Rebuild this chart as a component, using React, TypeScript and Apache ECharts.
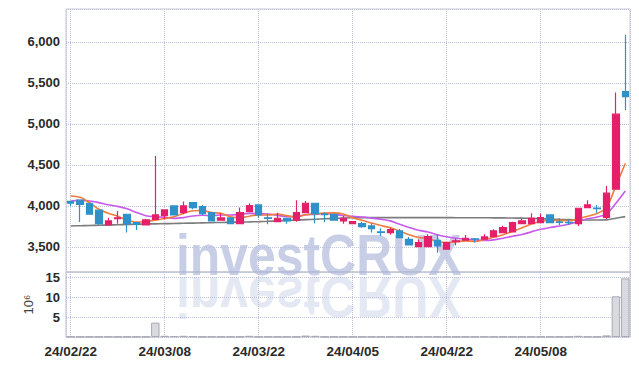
import React, { useEffect, useRef } from "react";
import * as echarts from "echarts";

const dates = [
  "2024-02-22","2024-02-23","2024-02-26","2024-02-27","2024-02-28","2024-02-29",
  "2024-03-04","2024-03-05","2024-03-06","2024-03-07","2024-03-08","2024-03-11","2024-03-12","2024-03-13","2024-03-14","2024-03-15",
  "2024-03-18","2024-03-19","2024-03-20","2024-03-21","2024-03-22","2024-03-25","2024-03-26","2024-03-27","2024-03-28","2024-03-29",
  "2024-04-01","2024-04-02","2024-04-03","2024-04-04","2024-04-05","2024-04-08","2024-04-09","2024-04-11","2024-04-12",
  "2024-04-15","2024-04-16","2024-04-17","2024-04-18","2024-04-19","2024-04-22","2024-04-23","2024-04-24","2024-04-25","2024-04-26",
  "2024-04-29","2024-04-30","2024-05-02","2024-05-03","2024-05-07","2024-05-08","2024-05-09","2024-05-10","2024-05-13","2024-05-14",
  "2024-05-16","2024-05-17","2024-05-20","2024-05-21","2024-05-22",
];

const opens = [4055,4070,4033,3948,3768,3845,3899,3797,3768,3835,3882,4000,3918,4041,3991,3918,3826,3854,3784,3930,4012,3855,3808,3850,3826,3918,4033,3900,3898,3817,3784,3784,3756,3683,3675,3695,3593,3504,3504,3581,3472,3565,3582,3600,3594,3626,3675,3683,3784,3784,3796,3890,3805,3800,3784,3980,3975,3860,4204,5394];
const closes = [4035,4020,3899,3784,3817,3855,3784,3777,3829,3890,3951,3890,4000,3980,3906,3817,3854,3784,3918,4004,3890,3848,3850,3817,3918,4033,3906,3895,3826,3850,3808,3747,3723,3678,3711,3613,3524,3553,3626,3512,3553,3575,3606,3594,3622,3695,3735,3796,3817,3850,3857,3796,3800,3795,3972,4012,3967,4155,5118,5333];
const lows = [4000,3805,3895,3768,3760,3784,3675,3707,3765,3830,3838,3885,3900,3960,3890,3812,3822,3780,3776,3925,3857,3776,3805,3784,3808,3915,3789,3800,3820,3784,3780,3735,3675,3634,3650,3608,3520,3500,3500,3430,3470,3520,3578,3555,3590,3622,3670,3680,3780,3780,3792,3790,3765,3770,3755,3975,3918,3840,4200,5167];
const highs = [4062,4072,4035,3950,3857,3939,3902,3800,3841,4610,3955,4002,4053,4043,4012,3920,3911,3856,3980,4033,4015,3898,3918,3852,4070,4061,4035,3920,3900,3878,3815,3808,3789,3728,3735,3720,3620,3590,3655,3655,3560,3600,3646,3610,3655,3715,3760,3808,3841,3911,3906,3895,3850,3830,3975,4070,4012,4244,5382,6086];

// volume in millions of shares
const volumes = [0.08,0.08,0.08,0.08,0.08,0.08,0.08,0.08,0.1,3.6,0.3,0.25,0.3,0.2,0.08,0.08,0.08,0.08,0.1,0.3,0.08,0.08,0.08,0.08,0.1,0.35,0.3,0.08,0.08,0.08,0.08,0.08,0.08,0.08,0.08,0.08,0.08,0.08,0.08,0.1,0.08,0.08,0.08,0.08,0.08,0.08,0.08,0.08,0.08,0.08,0.08,0.08,0.08,0.08,0.3,0.08,0.08,0.4,10.2,14.7];

const ma5Head = [4122, 4105, 4040, 3960];
const ma10Head = [4060, 4070, 4060, 4040, 4015, 3995, 3965, 3920, 3880];
const ma60 = [3756,3759,3762,3765,3768,3771,3774,3777,3780,3782,3784,3786,3789,3791,3794,3796,3799,3801,3804,3806,3809,3813,3818,3823,3828,3833,3838,3843,3848,3853,3857,3858,3858,3858,3858,3858,3858,3858,3858,3858,3858,3857,3857,3856,3856,3855,3854,3853,3851,3848,3844,3840,3836,3833,3830,3829,3829,3830,3851,3870];

const yTicks = [3500, 4000, 4500, 5000, 5500, 6000];
const volTicks = [5, 10, 15];

function movingAverage(n: number, head: number[]): number[] {
  return closes.map((_, i) => {
    if (i < n - 1) return head[i];
    let s = 0;
    for (let k = i - n + 1; k <= i; k++) s += closes[k];
    return Math.round(s / n);
  });
}

const FONT = "'Liberation Sans', Arial, sans-serif";
const UP = "#e4206a";
const DOWN = "#2f91c8";
const GRID_LINE = "#bcc2da";

function fmtDate(d: string) {
  return d.slice(2).replace(/-/g, "/");
}

export default function App() {
  const ref = useRef<HTMLDivElement>(null);
  useEffect(() => {
    document.body.style.margin = "0";
    if (!ref.current) return;
    const chart = echarts.init(ref.current, undefined, { renderer: "svg" });
    const ma5 = movingAverage(5, ma5Head);
    const ma10 = movingAverage(10, ma10Head);
    const candles = dates.map((_, i) => [opens[i], closes[i], lows[i], highs[i]]);
    const gridLeft = 66;
    const gridRight = 9;
    const labelStyle = {
      color: "#2a2a2a",
      fontSize: 13,
      fontFamily: FONT,
      fontWeight: "bold" as const,
    };
    const splitLine = { show: true, lineStyle: { type: "dotted" as const, color: GRID_LINE, width: 1 } };
    const wmFont = "bold 58px 'Liberation Sans', Arial, sans-serif";
    chart.setOption({
      animation: false,
      backgroundColor: "#ffffff",
      graphic: [
        {
          type: "text",
          x: 176,
          y: 284,
          silent: true,
          scaleX: 0.86,
          style: { text: "investCRUX", font: wmFont, fill: "rgba(165,176,214,0.62)", verticalAlign: "bottom" },
        },
        {
          type: "text",
          x: 176,
          y: 268,
          silent: true,
          scaleX: 0.86,
          scaleY: -1,
          style: { text: "investCRUX", font: wmFont, fill: "rgba(185,194,224,0.38)", verticalAlign: "bottom" },
        },
      ],
      grid: [
        { left: gridLeft, right: gridRight, top: 9, height: 263, show: true, borderColor: "#c6c9d6", borderWidth: 1, backgroundColor: "transparent" },
        { left: gridLeft, right: gridRight, top: 272, height: 65, show: true, borderColor: "#b9bbc6", borderWidth: 1, backgroundColor: "transparent" },
      ],
      xAxis: [
        { type: "category", gridIndex: 0, data: dates, boundaryGap: true, show: false, position: "bottom" },
        { type: "category", gridIndex: 1, data: dates, boundaryGap: true, show: false, position: "top" },
        {
          type: "value", gridIndex: 0, min: -0.5, max: 59.5, minInterval: 10, maxInterval: 10, position: "top",
          axisLine: { show: false }, axisTick: { show: false }, axisLabel: { show: false }, splitLine,
        },
        {
          type: "value", gridIndex: 1, min: -0.5, max: 59.5, minInterval: 10, maxInterval: 10, position: "bottom",
          axisLine: { show: false }, axisTick: { show: false }, splitLine,
          axisLabel: {
            ...labelStyle,
            fontSize: 13.5,
            margin: 7,
            showMinLabel: false,
            showMaxLabel: false,
            formatter: (v: number) => (Number.isInteger(v) && v % 10 === 0 && dates[v] ? fmtDate(dates[v]) : ""),
          },
        },
      ],
      yAxis: [
        {
          type: "value", gridIndex: 0, min: 3195, max: 6400, minInterval: 500, maxInterval: 500,
          axisLine: { show: false }, axisTick: { show: false }, splitLine,
          axisLabel: {
            ...labelStyle,
            margin: 6,
            showMinLabel: false,
            showMaxLabel: false,
            formatter: (v: number) => (yTicks.includes(v) ? v.toLocaleString("en-US") : ""),
          },
        },
        {
          type: "value", gridIndex: 1, min: 0, max: 16.3, minInterval: 5, maxInterval: 5,
          axisLine: { show: false }, axisTick: { show: false }, splitLine,
          name: "10⁶",
          nameLocation: "middle",
          nameRotate: 90,
          nameGap: 26,
          nameTextStyle: { color: "#444", fontSize: 13, fontFamily: FONT },
          axisLabel: {
            ...labelStyle,
            margin: 6,
            showMinLabel: false,
            showMaxLabel: false,
            formatter: (v: number) => (volTicks.includes(v) ? String(v) : ""),
          },
        },
      ],
      series: [
        {
          type: "candlestick",
          xAxisIndex: 0,
          yAxisIndex: 0,
          data: candles,
          barWidth: "72%",
          z: 3,
          itemStyle: { color: UP, color0: DOWN, borderColor: UP, borderColor0: DOWN, borderWidth: 1.2 },
        },
        {
          type: "line", xAxisIndex: 0, yAxisIndex: 0, data: ma60, showSymbol: false, smooth: 0.3, z: 2,
          lineStyle: { color: "#7c7c7c", width: 1.6 },
        },
        {
          type: "line", xAxisIndex: 0, yAxisIndex: 0, data: ma10, showSymbol: false, smooth: 0.3, z: 2,
          lineStyle: { color: "#c859ec", width: 1.6 },
        },
        {
          type: "line", xAxisIndex: 0, yAxisIndex: 0, data: ma5, showSymbol: false, smooth: 0.3, z: 2,
          lineStyle: { color: "#f07d3c", width: 1.6 },
        },
        {
          type: "bar", xAxisIndex: 1, yAxisIndex: 1, data: volumes, barWidth: "90%", z: 3,
          itemStyle: { color: "#d9d9e0", borderColor: "#a9a9b3", borderWidth: 1 },
        },
      ],
    });
    return () => chart.dispose();
  }, []);
  return <div ref={ref} style={{ width: 639, height: 366 }} />;
}
